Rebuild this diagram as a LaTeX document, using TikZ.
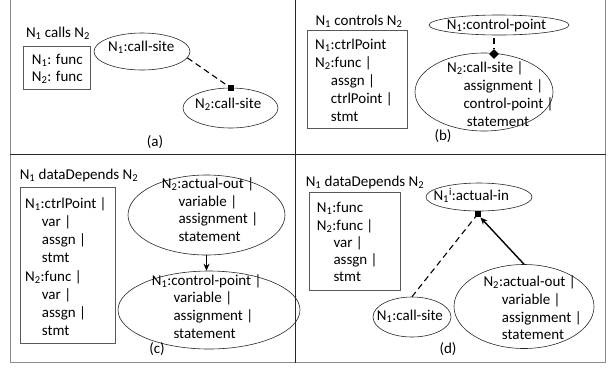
\documentclass[tikz,border=0pt]{standalone}
\usepackage{fontspec}
\setmainfont{Carlito}
\usetikzlibrary{shapes.geometric,arrows.meta}
\newcommand\sub[1]{\textsubscript{#1}}
\newcommand\figfont{\fontsize{15}{18}\selectfont}
\begin{document}
\begin{tikzpicture}[x=1pt,y=-1pt,
 frame/.style={draw=black!45,line width=0.8pt},
 divider/.style={draw=black!85,line width=0.9pt},
 listbox/.style={rectangle,draw=black!65,line width=0.8pt,inner sep=0,anchor=north west},
 oval/.style={ellipse,draw=black!85,line width=0.6pt,inner sep=0},
 txt/.style={inner sep=0,anchor=base west,font=\figfont},
 ttl/.style={inner sep=0,anchor=base,font=\figfont},
 sqtip/.style={rectangle,fill=black,minimum size=6pt,inner sep=0},
 dmtip/.style={diamond,fill=black,minimum width=10pt,minimum height=10pt,inner sep=0},
 dashedlink/.style={line width=1.1pt,dash pattern=on 6pt off 4pt},
 solidlink/.style={line width=1.4pt,-{Stealth[length=7pt,width=6pt]}},
]
\useasboundingbox (0,0) rectangle (613,368);
% frame and dividers
\draw[frame] (10,0) -- (10,362.5) -- (605.5,362.5) -- (605.5,0);
\draw[divider] (295,0) -- (295,362.5);
\draw[divider] (10,154) -- (605.5,154);

% ---------------- (a)
\node[ttl] (ta) at (58,37) {N\sub1 calls N\sub2};
\node[listbox,minimum width=67pt,minimum height=43pt] (boxa) at (23,46) {};
\node[txt] (a1) at (31.7,64) {N\sub1: func};
\node[txt] (a2) at (31.7,81) {N\sub2: func};
\node[oval,minimum width=96pt,minimum height=37pt] (ea1) at (142,51.5) {};
\node[txt] (ta1) at (108,51) {N\sub1:call-site};
\node[oval,minimum width=95pt,minimum height=40pt] (ea2) at (230.5,108) {};
\node[txt] (ta2) at (195,108.3) {N\sub2:call-site};
\node[sqtip] (sqa) at (ea2.north) {};
\draw[dashedlink] (ea1.-8) -- (sqa.center);
\node[ttl] (capa) at (155,146) {(a)};

% ---------------- (b)
\node[ttl] (tb) at (359,25) {N\sub1 controls N\sub2};
\node[listbox,minimum width=100pt,minimum height=98pt] (boxb) at (307,30) {};
\foreach \xx/\yy/\t [count=\i] in {315/49.3/{N\sub1:ctrlPoint},315/67.3/{N\sub2:func |},330.7/85.3/{assgn |},330.7/103.2/{ctrlPoint |},330.7/121/{stmt}}
  \node[txt] (bl\i) at (\xx,\yy) {\t};
\node[oval,minimum width=140pt,minimum height=20pt] (eb1) at (499,25) {};
\node[txt] (tb1) at (446.7,29.5) {N\sub1:control-point};
\node[oval,minimum width=138pt,minimum height=78pt] (eb2) at (484,92) {};
\node[dmtip] (dmb) at (494,54) {};
\draw[dashedlink,shorten <=3pt] (eb1.south -| dmb) -- (dmb.north);
\foreach \xx/\yy/\t [count=\i] in {447/72.7/{N\sub2:call-site |},463.3/90.5/{assignment |},463.3/108.3/{control-point |},466.7/126/{statement}}
  \node[txt] (bo\i) at (\xx,\yy) {\t};
\node[ttl] (capb) at (443,140) {(b)};

% ---------------- (c)
\node[ttl] (tc) at (79,179) {N\sub1 dataDepends N\sub2};
\node[listbox,minimum width=95pt,minimum height=155.7pt] (boxc) at (20,187.3) {};
\foreach \xx/\yy/\t [count=\i] in {25/208.3/{N\sub1:ctrlPoint |},41.7/226.5/{var |},41.7/244.7/{assgn |},41.7/262.9/{stmt},25/281.1/{N\sub2:func |},41.7/299.3/{var |},41.7/317.5/{assgn |},41.7/335.7/{stmt}}
  \node[txt] (cl\i) at (\xx,\yy) {\t};
\node[oval,minimum width=157pt,minimum height=80pt] (ec1) at (206.5,215) {};
\node[oval,minimum width=182pt,minimum height=78pt] (ec2) at (209,310) {};
\draw[solidlink,line width=1.1pt] (ec1.south) -- (ec1.south |- ec2.north);
\foreach \xx/\yy/\t [count=\i] in {161.7/188.3/{N\sub2:actual-out |},178.3/206/{variable |},178.3/223.7/{assignment |},178.3/241.4/{statement}}
  \node[txt] (co\i) at (\xx,\yy) {\t};
\foreach \xx/\yy/\t [count=\i] in {151.7/285/{N\sub1:control-point |},173.3/302.7/{variable |},173.3/320.4/{assignment |},173.3/338.1/{statement}}
  \node[txt] (cp\i) at (\xx,\yy) {\t};
\node[ttl] (capc) at (157,353) {(c)};

% ---------------- (d)
\node[ttl] (td) at (365,186) {N\sub1 dataDepends N\sub2};
\node[listbox,minimum width=90.7pt,minimum height=98.3pt] (boxd) at (309.3,191.7) {};
\foreach \xx/\yy/\t [count=\i] in {316.7/212.7/{N\sub1:func},316.7/230/{N\sub2:func |},333.3/247.2/{var |},333.3/264.5/{assgn |},333.3/281.7/{stmt}}
  \node[txt] (dl\i) at (\xx,\yy) {\t};
\node[oval,minimum width=106pt,minimum height=28pt] (ed1) at (479,197) {};
\node[txt] (td1) at (433.3,200.7) {N\sub1\textsuperscript{i}:actual-in};
\node[sqtip] (sqd) at ([xshift=-1.5pt,yshift=-3pt]ed1.south) {};
\node[oval,minimum width=78pt,minimum height=40pt] (ed2) at (412,317) {};
\node[txt] (td2) at (376.7,320) {N\sub1:call-site};
\node[oval,minimum width=140pt,minimum height=84pt] (ed3) at (524,306.5) {};
\draw[dashedlink] (ed2.north) -- (sqd.center);
\draw[solidlink] (ed3.north) -- (sqd);
\foreach \xx/\yy/\t [count=\i] in {483.3/286.7/{N\sub2:actual-out |},501.7/304.3/{variable |},501.7/322/{assignment |},501.7/339.7/{statement}}
  \node[txt] (dp\i) at (\xx,\yy) {\t};
\node[ttl] (capd) at (448,353) {(d)};
\end{tikzpicture}
\end{document}
